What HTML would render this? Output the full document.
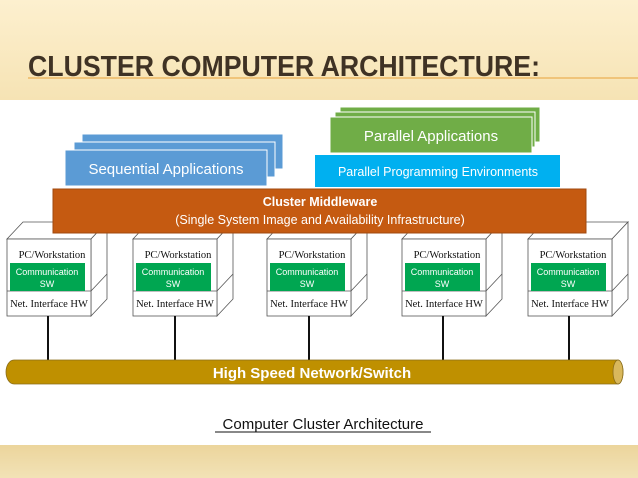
<!DOCTYPE html>
<html><head><meta charset="utf-8"><style>
html,body{margin:0;padding:0;background:#fff;}
svg{display:block;}
</style></head><body>
<svg width="638" height="478" viewBox="0 0 638 478" xmlns="http://www.w3.org/2000/svg" font-family="Liberation Sans, sans-serif">
<defs>
<linearGradient id="hd" x1="0" y1="0" x2="0" y2="1">
<stop offset="0" stop-color="#fdf0cf"/><stop offset="1" stop-color="#f6e3b4"/>
</linearGradient>
<linearGradient id="bt" x1="0" y1="0" x2="0" y2="1">
<stop offset="0" stop-color="#ecd59c"/><stop offset="1" stop-color="#f2e2b6"/>
</linearGradient>
</defs>
<rect x="0" y="0" width="638" height="100" fill="url(#hd)"/>
<rect x="0" y="445" width="638" height="33" fill="url(#bt)"/>
<text x="28" y="76" font-size="29" font-weight="bold" fill="#3f3224" textLength="512" lengthAdjust="spacingAndGlyphs">CLUSTER COMPUTER ARCHITECTURE:</text>
<line x1="28" y1="78" x2="638" y2="78" stroke="#e8a33a" stroke-width="1"/>

<rect x="82" y="134" width="201" height="35" fill="#5b9bd5" stroke="#fff" stroke-width="1"/>
<rect x="74" y="142" width="201" height="35" fill="#5b9bd5" stroke="#fff" stroke-width="1"/>
<rect x="65" y="150" width="202" height="36" fill="#5b9bd5" stroke="#fff" stroke-width="1"/>
<text x="166" y="174" font-size="15" fill="#fff" text-anchor="middle">Sequential Applications</text>

<rect x="340" y="107" width="200" height="35" fill="#70ad47" stroke="#fff"/>
<rect x="335" y="112" width="200" height="35" fill="#70ad47" stroke="#fff"/>
<rect x="330" y="117" width="202" height="36" fill="#70ad47" stroke="#fff"/>
<text x="431" y="141" font-size="15" fill="#fff" text-anchor="middle">Parallel Applications</text>

<rect x="315" y="155" width="245" height="32" fill="#00b0f0"/>
<text x="438" y="176" font-size="12.5" fill="#fff" text-anchor="middle">Parallel Programming Environments</text>

<g fill="#fff" stroke="#555" stroke-width="0.8">
<g transform="translate(7,0)">
<polygon points="0,239 16,222 100,222 84,239"/><polygon points="84,239 100,222 100,299 84,316"/>
<line x1="84" y1="291" x2="100" y2="274"/>
<rect x="0" y="239" width="84" height="77"/>
</g>
<g transform="translate(133,0)">
<polygon points="0,239 16,222 100,222 84,239"/><polygon points="84,239 100,222 100,299 84,316"/>
<line x1="84" y1="291" x2="100" y2="274"/>
<rect x="0" y="239" width="84" height="77"/>
</g>
<g transform="translate(267,0)">
<polygon points="0,239 16,222 100,222 84,239"/><polygon points="84,239 100,222 100,299 84,316"/>
<line x1="84" y1="291" x2="100" y2="274"/>
<rect x="0" y="239" width="84" height="77"/>
</g>
<g transform="translate(402,0)">
<polygon points="0,239 16,222 100,222 84,239"/><polygon points="84,239 100,222 100,299 84,316"/>
<line x1="84" y1="291" x2="100" y2="274"/>
<rect x="0" y="239" width="84" height="77"/>
</g>
<g transform="translate(528,0)">
<polygon points="0,239 16,222 100,222 84,239"/><polygon points="84,239 100,222 100,299 84,316"/>
<line x1="84" y1="291" x2="100" y2="274"/>
<rect x="0" y="239" width="84" height="77"/>
</g>
</g>
<g font-family="Liberation Serif, serif" font-size="10.5" fill="#111" text-anchor="middle">
<g transform="translate(7,0)"><line x1="0" y1="291" x2="84" y2="291" stroke="#555" stroke-width="0.8"/><rect x="3" y="263" width="75" height="28" fill="#00a651"/><text x="45" y="258">PC/Workstation</text><text x="42" y="307">Net. Interface HW</text><text x="40" y="275" font-family="Liberation Sans, sans-serif" font-size="9" fill="#fff">Communication</text><text x="40" y="287" font-family="Liberation Sans, sans-serif" font-size="9" fill="#fff">SW</text></g>
<g transform="translate(133,0)"><line x1="0" y1="291" x2="84" y2="291" stroke="#555" stroke-width="0.8"/><rect x="3" y="263" width="75" height="28" fill="#00a651"/><text x="45" y="258">PC/Workstation</text><text x="42" y="307">Net. Interface HW</text><text x="40" y="275" font-family="Liberation Sans, sans-serif" font-size="9" fill="#fff">Communication</text><text x="40" y="287" font-family="Liberation Sans, sans-serif" font-size="9" fill="#fff">SW</text></g>
<g transform="translate(267,0)"><line x1="0" y1="291" x2="84" y2="291" stroke="#555" stroke-width="0.8"/><rect x="3" y="263" width="75" height="28" fill="#00a651"/><text x="45" y="258">PC/Workstation</text><text x="42" y="307">Net. Interface HW</text><text x="40" y="275" font-family="Liberation Sans, sans-serif" font-size="9" fill="#fff">Communication</text><text x="40" y="287" font-family="Liberation Sans, sans-serif" font-size="9" fill="#fff">SW</text></g>
<g transform="translate(402,0)"><line x1="0" y1="291" x2="84" y2="291" stroke="#555" stroke-width="0.8"/><rect x="3" y="263" width="75" height="28" fill="#00a651"/><text x="45" y="258">PC/Workstation</text><text x="42" y="307">Net. Interface HW</text><text x="40" y="275" font-family="Liberation Sans, sans-serif" font-size="9" fill="#fff">Communication</text><text x="40" y="287" font-family="Liberation Sans, sans-serif" font-size="9" fill="#fff">SW</text></g>
<g transform="translate(528,0)"><line x1="0" y1="291" x2="84" y2="291" stroke="#555" stroke-width="0.8"/><rect x="3" y="263" width="75" height="28" fill="#00a651"/><text x="45" y="258">PC/Workstation</text><text x="42" y="307">Net. Interface HW</text><text x="40" y="275" font-family="Liberation Sans, sans-serif" font-size="9" fill="#fff">Communication</text><text x="40" y="287" font-family="Liberation Sans, sans-serif" font-size="9" fill="#fff">SW</text></g>
</g>

<rect x="53" y="189" width="533" height="44" fill="#c55a11" stroke="#a04a10" stroke-width="1"/>
<text x="320" y="206" font-size="12.5" font-weight="bold" fill="#fff" text-anchor="middle">Cluster Middleware</text>
<text x="320" y="224" font-size="12.5" fill="#fff" text-anchor="middle">(Single System Image and Availability Infrastructure)</text>

<g stroke="#111" stroke-width="2">
<line x1="48" y1="316" x2="48" y2="361"/>
<line x1="175" y1="316" x2="175" y2="361"/>
<line x1="309" y1="316" x2="309" y2="361"/>
<line x1="443" y1="316" x2="443" y2="361"/>
<line x1="569" y1="316" x2="569" y2="361"/>
</g>

<path d="M14,360 L618,360 A5,12 0 0 1 618,384 L14,384 A8,12 0 0 1 14,360 Z" fill="#bf9000" stroke="#8a6d1a" stroke-width="0.8"/>
<ellipse cx="618" cy="372" rx="5" ry="12" fill="#d9b85c" stroke="#8a6d1a" stroke-width="0.8"/>
<text x="312" y="378" font-size="15" font-weight="bold" fill="#fff" text-anchor="middle">High Speed Network/Switch</text>

<text x="323" y="429" font-size="15" fill="#111" text-anchor="middle">Computer Cluster Architecture</text>
<line x1="215" y1="432" x2="431" y2="432" stroke="#111" stroke-width="1"/>
</svg>
</body></html>
